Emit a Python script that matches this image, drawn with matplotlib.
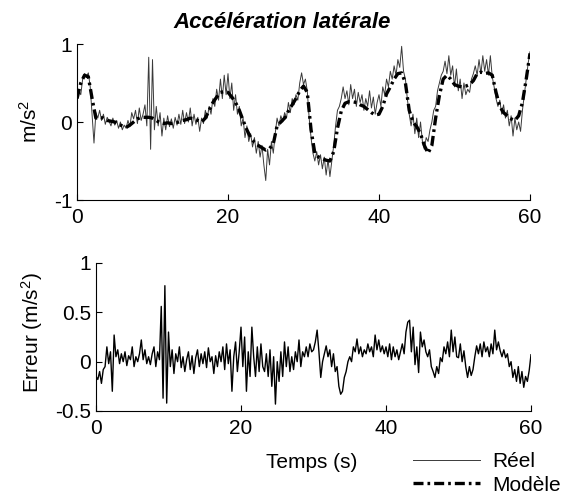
import numpy as np
import matplotlib
matplotlib.use("Agg")
import matplotlib.pyplot as plt

plt.rcParams['font.family'] = ['Liberation Sans', 'DejaVu Sans']
plt.rcParams['mathtext.fontset'] = 'custom'
plt.rcParams['mathtext.rm'] = 'Liberation Sans'
plt.rcParams['mathtext.it'] = 'Liberation Sans'
plt.rcParams['axes.unicode_minus'] = False

# ---------------- data ----------------
dt_reel = 0.25   # sampling step of measured / error signals (s)
dt_model = 0.5   # sampling step of model signal (s)

reel = [
    0.28, 0.40, 0.35, 0.55, 0.62, 0.58, 0.63, 0.45, 0.10, -0.27, 0.12, 0.05,
    0.15, 0.02, 0.10, -0.03, 0.06, 0.01, -0.05, 0.05, -0.04, 0.02, -0.08, 0.00,
    -0.10, -0.04, -0.08, 0.02, -0.06, 0.12, 0.04, 0.15, -0.02, 0.18, 0.02, 0.10,
    0.22, -0.05, 0.83, -0.35, 0.80, -0.10, 0.20, -0.05, 0.12, -0.18, 0.05, -0.10,
    0.08, -0.06, 0.04, -0.08, 0.06, -0.04, 0.10, -0.03, 0.15, -0.02, 0.12, 0.00,
    0.18, -0.05, 0.10, -0.03, 0.06, -0.12, 0.05, -0.02, 0.15, 0.05, 0.20, 0.10,
    0.30, 0.20, 0.42, 0.28, 0.55, 0.30, 0.60, 0.35, 0.62, 0.30, 0.50, 0.15,
    0.35, 0.10, 0.20, -0.05, 0.05, -0.20, -0.05, -0.25, -0.15, -0.32, -0.20, -0.40,
    -0.25, -0.45, -0.30, -0.55, -0.75, -0.35, -0.55, -0.25, -0.40, -0.15, 0.05, -0.05,
    0.08, 0.00, 0.12, 0.05, 0.25, 0.12, 0.30, 0.22, 0.35, 0.28, 0.50, 0.63,
    0.48, 0.55, 0.40, 0.05, -0.20, -0.40, -0.50, -0.38, -0.55, -0.42, -0.60, -0.45,
    -0.68, -0.48, -0.70, -0.50, -0.30, -0.05, 0.15, 0.20, 0.30, 0.45, 0.30, 0.40,
    0.22, 0.48, 0.30, 0.42, 0.20, 0.38, 0.25, 0.35, 0.15, 0.30, 0.20, 0.40,
    0.18, 0.32, 0.10, 0.25, 0.35, 0.20, 0.45, 0.35, 0.55, 0.45, 0.65, 0.55,
    0.72, 0.60, 0.80, 0.70, 0.97, 0.65, 0.55, 0.30, 0.10, -0.05, 0.10, -0.15,
    0.05, -0.20, 0.00, -0.25, -0.35, -0.20, -0.25, -0.10, 0.00, 0.15, 0.20, 0.40,
    0.50, 0.60, 0.65, 0.78, 0.62, 0.85, 0.60, 0.72, 0.45, 0.68, 0.40, 0.55,
    0.30, 0.50, 0.35, 0.42, 0.38, 0.55, 0.62, 0.72, 0.60, 0.80, 0.62, 0.85,
    0.65, 0.80, 0.60, 0.85, 0.58, 0.45, 0.30, 0.20, 0.28, 0.10, 0.22, 0.05,
    0.15, -0.05, 0.08, -0.18, 0.05, -0.10, 0.00, -0.12, 0.15, 0.35, 0.55, 0.75,
    0.90,
]

modele = [
    0.30, 0.50, 0.60, 0.58, 0.30, 0.05, 0.06, 0.05, 0.02, 0.01, 0.00, -0.03,
    -0.05, -0.07, -0.04, 0.00, 0.04, 0.06, 0.06, 0.06, 0.05, 0.02, -0.01, -0.02,
    -0.01, -0.02, -0.01, 0.00, 0.02, 0.03, 0.05, 0.04, 0.02, 0.00, 0.05, 0.15,
    0.25, 0.32, 0.38, 0.39, 0.38, 0.32, 0.25, 0.15, 0.02, -0.10, -0.20, -0.26,
    -0.30, -0.33, -0.36, -0.34, -0.28, -0.05, 0.00, 0.05, 0.14, 0.22, 0.30, 0.40,
    0.46, 0.38, -0.10, -0.40, -0.45, -0.47, -0.49, -0.50, -0.38, -0.08, 0.14, 0.24,
    0.26, 0.26, 0.25, 0.22, 0.20, 0.16, 0.12, 0.09, 0.10, 0.20, 0.36, 0.45,
    0.55, 0.62, 0.63, 0.50, 0.15, 0.00, -0.06, -0.15, -0.30, -0.40, -0.30, 0.05,
    0.34, 0.55, 0.60, 0.55, 0.48, 0.46, 0.45, 0.46, 0.48, 0.53, 0.62, 0.64,
    0.62, 0.63, 0.60, 0.38, 0.20, 0.12, 0.08, 0.04, 0.02, 0.08, 0.25, 0.55,
    0.88,
]

erreur = [
    -0.15, -0.18, -0.10, -0.22, -0.08, -0.05, 0.15, -0.02, 0.10, -0.30, 0.27, 0.05,
    0.12, -0.02, 0.08, 0.00, 0.10, -0.04, 0.06, 0.02, 0.15, -0.05, 0.05, 0.00,
    0.08, 0.22, 0.02, 0.12, -0.02, 0.05, -0.03, 0.08, 0.15, -0.05, 0.10, 0.02,
    0.56, -0.37, 0.77, -0.42, 0.30, -0.05, 0.12, -0.12, 0.08, 0.00, 0.15, -0.06,
    0.05, -0.10, 0.02, 0.10, -0.08, 0.06, -0.12, 0.04, 0.12, -0.05, 0.08, -0.02,
    0.10, -0.06, 0.14, 0.00, 0.05, -0.12, 0.06, -0.05, 0.10, 0.00, 0.15, -0.08,
    0.18, -0.02, 0.12, -0.30, 0.05, 0.20, -0.10, 0.10, 0.35, -0.05, 0.25, -0.30,
    0.10, -0.15, 0.35, 0.05, -0.15, 0.15, -0.10, 0.18, -0.05, -0.10, 0.08, -0.15,
    0.12, -0.25, 0.05, -0.43, 0.00, -0.20, 0.10, -0.15, 0.20, -0.05, 0.15, -0.10,
    0.05, -0.08, 0.10, 0.00, 0.22, -0.05, 0.10, 0.05, 0.15, 0.05, 0.18, 0.10,
    0.12, 0.20, 0.32, 0.10, -0.16, 0.00, 0.08, 0.16, 0.05, 0.12, -0.05, 0.08,
    -0.10, -0.05, -0.25, -0.33, -0.30, -0.16, -0.10, 0.00, 0.05, 0.00, 0.15, 0.10,
    0.23, 0.08, 0.15, 0.05, 0.12, 0.08, 0.18, 0.10, 0.15, 0.05, 0.27, 0.12,
    0.22, 0.10, 0.16, 0.08, 0.15, 0.05, 0.18, 0.02, 0.15, 0.05, 0.12, 0.02,
    0.10, 0.18, 0.08, 0.30, 0.40, 0.42, 0.10, 0.35, -0.03, 0.15, -0.11, 0.30,
    0.15, 0.22, 0.10, 0.05, 0.12, -0.05, -0.10, -0.16, -0.05, -0.12, 0.04, 0.00,
    0.15, 0.08, 0.20, 0.05, 0.32, 0.10, 0.25, 0.05, 0.04, 0.18, 0.00, 0.11,
    -0.05, -0.16, -0.05, -0.14, -0.08, 0.05, 0.16, 0.08, 0.18, 0.05, 0.20, 0.10,
    0.15, 0.05, 0.18, 0.08, 0.32, 0.12, 0.20, 0.11, 0.05, 0.12, 0.04, 0.08,
    -0.05, 0.00, -0.16, -0.08, -0.20, -0.05, -0.22, -0.10, -0.26, -0.15, -0.20, -0.09,
    0.07,
]

x_ticks = [0, 20, 40, 60]
y_ticks_top = [-1, 0, 1]
y_ticks_bot = [-0.5, 0, 0.5, 1]
y_ticklabels_bot = ['-0.5', '0', '0.5', '1']

t_reel = np.arange(len(reel)) * dt_reel
t_model = np.arange(len(modele)) * dt_model
t_err = np.arange(len(erreur)) * dt_reel

# ---------------- figure ----------------
W, H = 562, 501
FS = 15
fig = plt.figure(figsize=(W / 100, H / 100), dpi=100)

def ax_rect(l, r, top, bot):
    return [l / W, 1 - bot / H, (r - l) / W, (bot - top) / H]

ax1 = fig.add_axes(ax_rect(77, 530, 44, 200))
ax2 = fig.add_axes(ax_rect(96, 531, 263, 411))

l_reel, = ax1.plot(t_reel, reel, color='#3a3a3a', lw=0.7, label='Réel')
l_mod, = ax1.plot(t_model, modele, color='black', lw=2.4,
                  linestyle=(0, (3.0, 1.2, 0.8, 1.2)), label='Modèle')
ax1.set_xlim(0, 60)
ax1.set_ylim(-1, 1)
ax1.set_xticks(x_ticks)
ax1.set_yticks(y_ticks_top)

ax2.plot(t_err, erreur, color='black', lw=1.0)
ax2.set_xlim(0, 60)
ax2.set_ylim(-0.5, 1)
ax2.set_xticks(x_ticks)
ax2.set_yticks(y_ticks_bot)
ax2.set_yticklabels(y_ticklabels_bot)

for ax in (ax1, ax2):
    for s in ('top', 'right'):
        ax.spines[s].set_visible(False)
    for s in ('left', 'bottom'):
        ax.spines[s].set_linewidth(0.8)
    ax.tick_params(direction='in', length=4, width=0.8, labelsize=FS)
    ax.tick_params(axis='x', pad=6)
    ax.tick_params(axis='y', pad=3.5)

fig.text(282 / W, 1 - 23 / H, 'Accélération latérale', ha='center', va='center',
         fontsize=16, fontweight='bold', fontstyle='italic',
         family=['Liberation Sans Narrow', 'Liberation Sans'])
fig.text(30 / W, 1 - 121 / H, r'm/s$^2$', rotation=90, ha='center', va='center',
         fontsize=FS)
fig.text(32 / W, 1 - 333 / H, r'Erreur (m/s$^2$)', rotation=90, ha='center', va='center',
         fontsize=FS)
fig.text(312 / W, 1 - 463 / H, 'Temps (s)', ha='center', va='center', fontsize=FS)

fig.legend(handles=[l_reel, l_mod], loc='upper left',
           bbox_to_anchor=(413 / W, 1 - 452 / H), frameon=False, fontsize=FS,
           handlelength=3.2, handletextpad=0.58, labelspacing=0.22, borderpad=0,
           borderaxespad=0)

fig.savefig('out.png', dpi=100)
